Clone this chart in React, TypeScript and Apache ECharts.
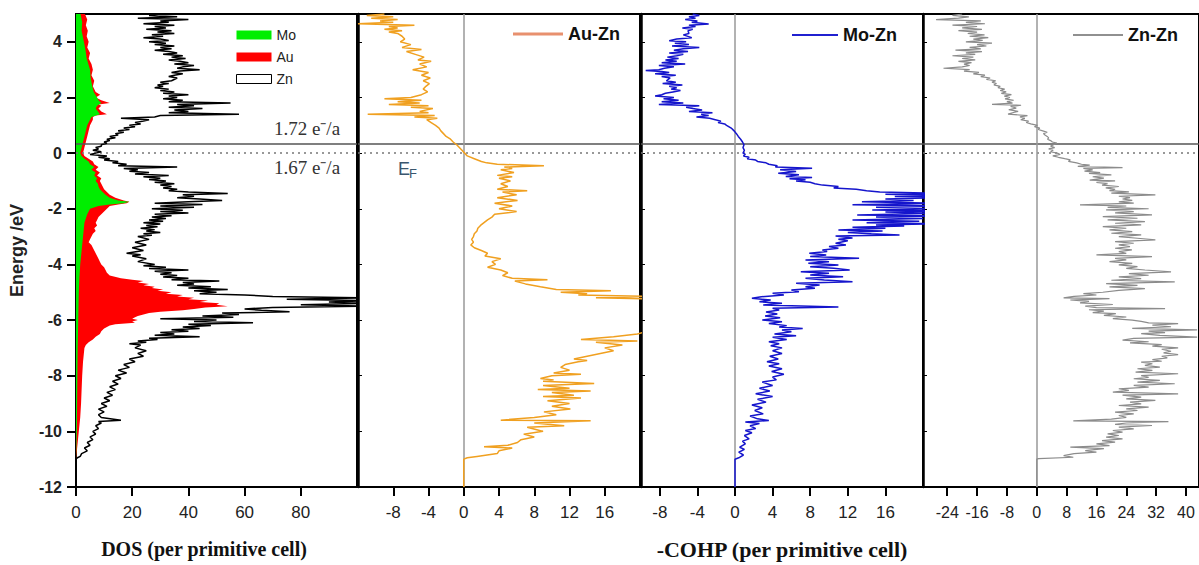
import React, { useEffect, useRef } from 'react';
import * as echarts from 'echarts';

// ---------- tick values ----------
const energyTicks = [-12, -10, -8, -6, -4, -2, 0, 2, 4];
const dosTicks = [0, 20, 40, 60, 80];
const auZnTicks = [-8, -4, 0, 4, 8, 12, 16];
const moZnTicks = [-8, -4, 0, 4, 8, 12, 16];
const znZnTicks = [-24, -16, -8, 0, 8, 16, 24, 32, 40];

// reference levels (eV)
const fermiLevel = 0;
const shiftedLevel = 0.32;

// ---------- data: [energy (eV), value] ----------
const moDos: [number, number][] = [
  [5.0, 1.6], [4.7, 2.2], [4.4, 2.0], [4.0, 2.8], [3.7, 3.4], [3.4, 3.8], [3.0, 5], [2.7, 5.2], [2.4, 5.8], [2.2, 6.3],
  [2.0, 7.5], [1.9, 8], [1.8, 9], [1.7, 7.5], [1.6, 7], [1.5, 7.8], [1.4, 8.5], [1.3, 5.5], [1.2, 5], [1.0, 4],
  [0.8, 3.5], [0.6, 3], [0.4, 2.5], [0.2, 2], [0.0, 1.5], [-0.1, 2], [-0.2, 3], [-0.3, 4.5], [-0.4, 5], [-0.5, 6.5],
  [-0.6, 5.5], [-0.7, 7], [-0.8, 6.5], [-0.9, 7.5], [-1.0, 7], [-1.1, 7.8], [-1.2, 8], [-1.3, 8.5], [-1.4, 9.5], [-1.5, 10.5],
  [-1.6, 12], [-1.7, 15], [-1.75, 19], [-1.8, 17], [-1.85, 12], [-1.9, 8], [-2.0, 5], [-2.2, 4], [-2.5, 3], [-3.0, 2.5],
  [-3.5, 2], [-4.0, 1.5], [-4.5, 1.2], [-5.0, 1], [-6.0, 0.8], [-7.0, 0.6], [-8.0, 0.5], [-9.0, 0.4], [-10.0, 0.3], [-11.0, 0],
];

const auDos: [number, number][] = [
  [5.0, 3.2], [4.8, 4], [4.6, 3.5], [4.4, 4.2], [4.2, 3.8], [4.0, 4.5], [3.8, 4], [3.6, 5], [3.4, 4.5], [3.2, 5.5],
  [3.0, 6], [2.8, 5.5], [2.6, 6.5], [2.4, 6], [2.2, 7], [2.1, 8.6], [2.0, 7], [1.9, 9], [1.8, 12], [1.75, 8],
  [1.7, 9], [1.6, 8], [1.5, 9], [1.4, 11], [1.35, 7], [1.3, 6], [1.2, 6], [1.0, 5], [0.8, 4.5], [0.6, 4],
  [0.4, 3.5], [0.2, 3], [0.0, 2.5], [-0.1, 3], [-0.2, 4.5], [-0.3, 6], [-0.4, 6.5], [-0.5, 8], [-0.6, 7], [-0.7, 8.5],
  [-0.8, 7.5], [-0.9, 9], [-1.0, 8.5], [-1.1, 9], [-1.2, 9.5], [-1.3, 10], [-1.4, 11], [-1.5, 12], [-1.6, 14], [-1.7, 17],
  [-1.75, 19], [-1.8, 18], [-1.85, 15], [-1.9, 12], [-2.0, 11], [-2.1, 10], [-2.2, 9], [-2.3, 8], [-2.4, 7.5], [-2.5, 7],
  [-2.6, 7.5], [-2.7, 6.5], [-2.8, 7], [-2.9, 6], [-3.0, 5.5], [-3.1, 5], [-3.2, 4.5], [-3.3, 5.5], [-3.4, 6], [-3.5, 6.5],
  [-3.6, 7], [-3.7, 7.5], [-3.8, 8], [-3.9, 8.5], [-4.0, 9], [-4.1, 10], [-4.2, 10.5], [-4.3, 11], [-4.4, 12], [-4.5, 16],
  [-4.55, 20], [-4.6, 24], [-4.65, 22], [-4.7, 26], [-4.75, 24], [-4.8, 28], [-4.85, 27], [-4.9, 31], [-4.95, 29], [-5.0, 34],
  [-5.05, 32], [-5.1, 38], [-5.15, 36], [-5.2, 42], [-5.25, 40], [-5.3, 47], [-5.35, 44], [-5.4, 51], [-5.45, 50], [-5.5, 54],
  [-5.55, 46], [-5.6, 42], [-5.65, 38], [-5.7, 30], [-5.75, 26], [-5.8, 24], [-5.85, 22], [-5.9, 21], [-5.95, 20], [-6.0, 22],
  [-6.05, 20], [-6.1, 21], [-6.15, 14], [-6.2, 12], [-6.3, 10], [-6.4, 9], [-6.5, 8.5], [-6.6, 7], [-6.7, 6], [-6.8, 4.5],
  [-6.9, 3.5], [-7.0, 3], [-7.5, 2.5], [-8.0, 2.2], [-8.5, 2], [-9.0, 1.8], [-9.5, 1.5], [-10.0, 1.0], [-10.5, 0.5], [-11.0, 0],
];

const znDos: [number, number][] = [
  [5.0, 30], [4.95, 26], [4.9, 36], [4.85, 22], [4.8, 40], [4.75, 30], [4.7, 33], [4.65, 24], [4.6, 35], [4.55, 28],
  [4.5, 32], [4.45, 25], [4.4, 34], [4.35, 29], [4.3, 35], [4.25, 27], [4.2, 31], [4.15, 24], [4.1, 30], [4.05, 33],
  [4.0, 26], [3.95, 32], [3.9, 28], [3.85, 35], [3.8, 30], [3.75, 34], [3.7, 28], [3.65, 33], [3.6, 36], [3.55, 31],
  [3.5, 38], [3.45, 34], [3.4, 39], [3.35, 33], [3.3, 37], [3.25, 40], [3.2, 35], [3.15, 42], [3.1, 38], [3.05, 36],
  [3.0, 44], [2.95, 37], [2.9, 34], [2.85, 38], [2.8, 35], [2.75, 33], [2.7, 36], [2.6, 34], [2.55, 30], [2.5, 33],
  [2.45, 29], [2.4, 31], [2.35, 28], [2.3, 33], [2.25, 30], [2.2, 35], [2.15, 31], [2.1, 40], [2.05, 33], [2.0, 36],
  [1.95, 31], [1.9, 38], [1.85, 33], [1.8, 55], [1.75, 36], [1.7, 42], [1.65, 33], [1.6, 45], [1.55, 35], [1.5, 40],
  [1.45, 33], [1.4, 58], [1.35, 30], [1.3, 28], [1.25, 16], [1.2, 26], [1.15, 24], [1.1, 21], [1.05, 23], [1.0, 19],
  [0.95, 21], [0.9, 17], [0.85, 19], [0.8, 15], [0.75, 17], [0.7, 14], [0.65, 15], [0.6, 12], [0.55, 14], [0.5, 11],
  [0.45, 12], [0.4, 10], [0.35, 11], [0.3, 9], [0.25, 9], [0.2, 7], [0.15, 8], [0.1, 6], [0.05, 9], [0.0, 7],
  [-0.05, 5], [-0.1, 11], [-0.15, 8], [-0.2, 12], [-0.25, 10], [-0.3, 15], [-0.35, 13], [-0.4, 18], [-0.45, 15], [-0.5, 36],
  [-0.55, 17], [-0.6, 22], [-0.65, 19], [-0.7, 26], [-0.75, 21], [-0.8, 33], [-0.85, 24], [-0.9, 30], [-0.95, 26], [-1.0, 32],
  [-1.05, 28], [-1.1, 35], [-1.15, 30], [-1.2, 34], [-1.25, 31], [-1.3, 36], [-1.35, 33], [-1.4, 40], [-1.45, 54], [-1.5, 38],
  [-1.55, 42], [-1.6, 36], [-1.65, 44], [-1.7, 52], [-1.75, 40], [-1.8, 28], [-1.85, 45], [-1.9, 30], [-1.95, 42], [-2.0, 27],
  [-2.05, 38], [-2.1, 30], [-2.15, 40], [-2.2, 28], [-2.25, 34], [-2.3, 27], [-2.35, 32], [-2.4, 26], [-2.45, 31], [-2.5, 24],
  [-2.55, 30], [-2.6, 25], [-2.65, 29], [-2.7, 23], [-2.75, 28], [-2.8, 25], [-2.85, 30], [-2.9, 24], [-2.95, 27], [-3.0, 22],
  [-3.1, 26], [-3.2, 21], [-3.3, 25], [-3.4, 20], [-3.5, 24], [-3.6, 18], [-3.65, 23], [-3.7, 20], [-3.8, 25], [-3.9, 22],
  [-4.0, 28], [-4.05, 24], [-4.1, 32], [-4.15, 26], [-4.2, 40], [-4.25, 28], [-4.3, 34], [-4.35, 30], [-4.4, 36], [-4.45, 31],
  [-4.5, 40], [-4.55, 34], [-4.6, 51], [-4.65, 38], [-4.7, 42], [-4.75, 36], [-4.8, 48], [-4.85, 40], [-4.9, 54], [-4.95, 42],
  [-5.0, 50], [-5.05, 44], [-5.1, 60], [-5.15, 70], [-5.2, 105], [-5.25, 75], [-5.3, 105], [-5.35, 90], [-5.4, 105], [-5.45, 80],
  [-5.5, 105], [-5.55, 70], [-5.6, 60], [-5.65, 66], [-5.7, 76], [-5.75, 52], [-5.8, 58], [-5.85, 45], [-5.9, 56], [-5.95, 30],
  [-6.0, 50], [-6.05, 42], [-6.1, 63], [-6.15, 40], [-6.2, 48], [-6.25, 38], [-6.3, 44], [-6.35, 34], [-6.4, 40], [-6.45, 30],
  [-6.5, 35], [-6.55, 28], [-6.6, 44], [-6.65, 26], [-6.7, 29], [-6.75, 22], [-6.8, 25], [-6.85, 19], [-6.9, 23], [-7.0, 21],
  [-7.1, 25], [-7.2, 22], [-7.3, 24], [-7.4, 19], [-7.5, 21], [-7.6, 17], [-7.7, 19], [-7.8, 15], [-7.9, 18], [-8.0, 14],
  [-8.1, 16], [-8.2, 13], [-8.3, 15], [-8.4, 12], [-8.5, 14], [-8.6, 11], [-8.7, 13], [-8.8, 10], [-8.9, 12], [-9.0, 9],
  [-9.1, 11], [-9.2, 8], [-9.3, 10], [-9.4, 8], [-9.5, 9], [-9.6, 16], [-9.65, 8], [-9.7, 9], [-9.8, 7], [-9.9, 8],
  [-10.0, 6], [-10.1, 7], [-10.2, 5], [-10.3, 6], [-10.4, 4], [-10.5, 5], [-10.6, 3], [-10.7, 4], [-10.8, 2], [-10.9, 1.5],
  [-10.95, 0.5], [-11.0, 0],
];

const auZnCohp: [number, number][] = [
  [5.0, -9], [4.95, -11], [4.9, -8], [4.85, -10.5], [4.8, -7.5], [4.75, -9.5], [4.7, -8], [4.65, -12], [4.6, -5.6], [4.55, -8.5],
  [4.5, -7.5], [4.45, -9], [4.4, -7], [4.35, -8.5], [4.3, -7.5], [4.2, -7], [4.1, -6.7], [4.0, -7.2], [3.9, -6], [3.8, -7],
  [3.72, -4.8], [3.65, -6.5], [3.55, -5.5], [3.45, -4.5], [3.35, -5.2], [3.3, -3.7], [3.2, -5], [3.1, -4.2], [3.0, -5.8], [2.9, -4],
  [2.8, -4.8], [2.7, -3.8], [2.6, -4.6], [2.5, -3.9], [2.4, -4.3], [2.3, -4.6], [2.2, -4.1], [2.1, -4.8], [2.0, -6], [1.95, -9],
  [1.9, -4.8], [1.85, -7.5], [1.8, -5], [1.75, -8.5], [1.7, -4], [1.65, -6], [1.6, -3.5], [1.5, -5], [1.45, -4], [1.4, -10.9],
  [1.35, -3.3], [1.3, -5.6], [1.25, -3], [1.2, -4.2], [1.1, -3.7], [1.0, -3.2], [0.9, -2.8], [0.8, -2.6], [0.7, -2.3], [0.6, -2],
  [0.5, -1.5], [0.4, -1.2], [0.3, -0.8], [0.2, -0.5], [0.1, -0.2], [0.0, 0.1], [-0.1, 0.4], [-0.2, 1.2], [-0.3, 2], [-0.35, 2.6],
  [-0.4, 3.8], [-0.45, 9.1], [-0.5, 4.6], [-0.55, 5.5], [-0.6, 4.2], [-0.7, 5.7], [-0.8, 3.8], [-0.85, 5.5], [-0.9, 4], [-1.0, 5.3],
  [-1.1, 4.2], [-1.2, 5], [-1.3, 3.8], [-1.35, 7.2], [-1.4, 4.4], [-1.5, 6], [-1.6, 3.8], [-1.7, 6.1], [-1.8, 3.5], [-1.9, 5.5],
  [-2.0, 4], [-2.1, 6], [-2.2, 3.5], [-2.3, 3.2], [-2.4, 2.7], [-2.5, 2.3], [-2.6, 1.9], [-2.7, 1.6], [-2.8, 1.5], [-2.9, 1.2],
  [-3.0, 1.1], [-3.1, 0.9], [-3.2, 1.1], [-3.3, 0.8], [-3.4, 1.2], [-3.5, 2], [-3.6, 2.7], [-3.7, 2.4], [-3.8, 4.2], [-3.9, 3.2],
  [-4.0, 3.6], [-4.1, 2.7], [-4.2, 4.2], [-4.3, 5], [-4.4, 4.4], [-4.5, 5.5], [-4.55, 9.5], [-4.6, 5.8], [-4.7, 7], [-4.8, 8.7],
  [-4.9, 10.5], [-4.95, 16.7], [-5.0, 11], [-5.05, 14], [-5.1, 13], [-5.15, 20.5], [-5.2, 15], [-5.25, 22], [-5.3, 24], [-5.5, 26],
  [-5.8, 27], [-6.1, 26], [-6.3, 23], [-6.4, 21], [-6.5, 19.7], [-6.6, 17], [-6.7, 13.3], [-6.75, 19.7], [-6.8, 15], [-6.9, 18],
  [-7.0, 16], [-7.1, 17], [-7.2, 15.5], [-7.3, 14], [-7.4, 12.5], [-7.45, 14], [-7.5, 13], [-7.6, 11.5], [-7.7, 11], [-7.8, 12],
  [-7.9, 10.2], [-7.95, 13.3], [-8.0, 10], [-8.1, 8.7], [-8.15, 10.2], [-8.2, 9], [-8.28, 14.8], [-8.35, 9], [-8.45, 12], [-8.5, 8.4],
  [-8.55, 14.4], [-8.6, 10], [-8.7, 12.5], [-8.75, 9], [-8.8, 13.3], [-8.9, 9.5], [-9.0, 12], [-9.1, 10], [-9.2, 12.1], [-9.3, 9.1],
  [-9.4, 10.5], [-9.5, 8], [-9.6, 4.2], [-9.62, 14.4], [-9.7, 8], [-9.8, 11.4], [-9.85, 7.2], [-9.95, 8.4], [-10.0, 9], [-10.1, 6.8],
  [-10.2, 8], [-10.3, 6.5], [-10.4, 6.1], [-10.5, 5], [-10.55, 2.3], [-10.6, 5.5], [-10.7, 4], [-10.8, 3.8], [-10.9, 1.5], [-10.95, 0.4],
  [-11.0, 0], [-12.0, 0],
];

const moZnCohp: [number, number][] = [
  [5.0, -4.5], [4.95, -3.8], [4.9, -4.9], [4.85, -4.2], [4.8, -5.3], [4.75, -4.0], [4.7, -4.6], [4.64, -2.8], [4.6, -4.9], [4.55, -4.2],
  [4.5, -5.6], [4.45, -4.5], [4.4, -5.0], [4.3, -4.9], [4.25, -5.5], [4.15, -4.6], [4.1, -6.2], [4.04, -7], [4.0, -5.2], [3.95, -6.4],
  [3.9, -4.9], [3.85, -6.7], [3.8, -3.8], [3.75, -5.5], [3.7, -6.5], [3.65, -5], [3.6, -7], [3.55, -5.5], [3.5, -6.2], [3.45, -7.2],
  [3.4, -6], [3.35, -7.4], [3.3, -6.2], [3.25, -7.8], [3.2, -5.3], [3.15, -8.1], [3.1, -6.5], [3.05, -7.5], [3.0, -8.1], [2.97, -9.5],
  [2.93, -7.8], [2.9, -7], [2.85, -8.5], [2.8, -6.3], [2.75, -7.8], [2.7, -6.9], [2.6, -7.3], [2.55, -6.3], [2.5, -7.7], [2.45, -5.6],
  [2.4, -7], [2.35, -6.2], [2.3, -6.8], [2.25, -5.8], [2.2, -6.6], [2.15, -7.4], [2.1, -7.8], [2.05, -8.5], [2.0, -6.5], [1.95, -7.6],
  [1.9, -6], [1.85, -7.8], [1.8, -5.5], [1.75, -8.1], [1.7, -3.8], [1.65, -5.2], [1.6, -4.5], [1.55, -3.5], [1.5, -4.9], [1.45, -2.4],
  [1.4, -3.6], [1.35, -2.8], [1.3, -4.1], [1.25, -2.7], [1.2, -2.1], [1.15, -1.5], [1.1, -1.8], [1.05, -1.1], [1.0, -0.9], [0.9, -0.4],
  [0.8, -0.1], [0.7, 0.15], [0.6, 0.35], [0.5, 0.6], [0.4, 0.8], [0.3, 0.96], [0.2, 0.85], [0.1, 1.0], [0.0, 0.85], [-0.05, 1.1],
  [-0.1, 0.9], [-0.15, 1.5], [-0.2, 1.3], [-0.25, 2.2], [-0.3, 2.4], [-0.35, 3.3], [-0.4, 3.6], [-0.45, 4.5], [-0.5, 4.3], [-0.54, 8.2],
  [-0.6, 4.8], [-0.66, 6.5], [-0.72, 4.6], [-0.78, 6.8], [-0.84, 5.4], [-0.88, 8.2], [-0.92, 5.8], [-0.96, 7.5], [-1.0, 6.5], [-1.05, 8],
  [-1.1, 8.5], [-1.15, 9.3], [-1.2, 11], [-1.25, 10.5], [-1.3, 12.9], [-1.35, 14], [-1.4, 15.4], [-1.44, 22], [-1.48, 16], [-1.52, 22],
  [-1.56, 17], [-1.6, 22], [-1.65, 16], [-1.7, 19], [-1.75, 13.5], [-1.8, 22], [-1.86, 12.5], [-1.9, 22], [-1.95, 15], [-2.0, 22],
  [-2.04, 14.6], [-2.08, 22], [-2.12, 16], [-2.16, 21], [-2.22, 13], [-2.26, 22], [-2.3, 15], [-2.35, 20], [-2.4, 12.5], [-2.45, 19.6],
  [-2.5, 14], [-2.54, 22], [-2.58, 15], [-2.62, 18], [-2.66, 12.5], [-2.7, 16], [-2.76, 11], [-2.8, 15.7], [-2.85, 12], [-2.9, 14.5],
  [-2.94, 17.5], [-2.98, 10.7], [-3.05, 12.5], [-3.1, 11], [-3.15, 12], [-3.24, 10.7], [-3.3, 11.8], [-3.36, 10], [-3.42, 11], [-3.48, 9.3],
  [-3.54, 9.8], [-3.6, 7.9], [-3.66, 9.7], [-3.72, 8], [-3.78, 13.2], [-3.84, 7.5], [-3.9, 10], [-3.96, 7.8], [-4.02, 11], [-4.08, 8],
  [-4.14, 10.5], [-4.2, 12.2], [-4.26, 7], [-4.32, 10], [-4.38, 8], [-4.44, 11.5], [-4.5, 7.5], [-4.56, 9.5], [-4.62, 12.5], [-4.68, 6.5],
  [-4.74, 9], [-4.8, 7.5], [-4.86, 8.5], [-4.92, 6], [-4.98, 6.8], [-5.04, 4], [-5.1, 5.2], [-5.16, 2.8], [-5.22, 1.8], [-5.28, 3.8],
  [-5.34, 2.6], [-5.4, 5], [-5.46, 3], [-5.53, 11], [-5.58, 4], [-5.64, 4.7], [-5.71, 3.3], [-5.78, 4.5], [-5.85, 3.2], [-5.92, 4.8],
  [-6.0, 2.9], [-6.06, 5], [-6.12, 3.6], [-6.2, 5.5], [-6.25, 4.7], [-6.3, 7.2], [-6.36, 5], [-6.42, 6], [-6.5, 4.2], [-6.56, 6.5],
  [-6.62, 4], [-6.7, 5.5], [-6.78, 3.6], [-6.85, 4.7], [-6.92, 3.8], [-7.0, 5], [-7.1, 4], [-7.2, 5], [-7.3, 3.7], [-7.4, 4.6],
  [-7.5, 3.4], [-7.57, 4.7], [-7.65, 3.6], [-7.75, 5], [-7.85, 3.9], [-7.95, 5.2], [-8.05, 4], [-8.15, 4.4], [-8.23, 2.9], [-8.35, 4],
  [-8.45, 2.6], [-8.55, 3.7], [-8.65, 2.2], [-8.75, 4], [-8.85, 2.4], [-8.95, 3.3], [-9.05, 1.8], [-9.15, 2.9], [-9.25, 2.1], [-9.37, 3],
  [-9.45, 1.6], [-9.55, 2.4], [-9.61, 3.6], [-9.66, 1.1], [-9.72, 2.6], [-9.8, 1.6], [-9.9, 2.2], [-9.97, 1.1], [-10.05, 1.8], [-10.15, 1.0],
  [-10.27, 1.5], [-10.35, 0.8], [-10.45, 1.1], [-10.57, 0.5], [-10.65, 1.0], [-10.75, 0.4], [-10.85, 0.9], [-10.95, 0.4], [-11.0, 0], [-12.0, 0],
];

const znZnCohp: [number, number][] = [
  [5.0, -20], [4.95, -22.6], [4.9, -18.2], [4.85, -21], [4.8, -27], [4.75, -15], [4.7, -19], [4.65, -13.9], [4.6, -22.6], [4.55, -16],
  [4.5, -20], [4.45, -14.7], [4.4, -21], [4.35, -16], [4.3, -18.5], [4.25, -14], [4.2, -18], [4.15, -13], [4.1, -17], [4.05, -14.5],
  [4.0, -19], [3.95, -12], [3.9, -16], [3.85, -13.5], [3.8, -18], [3.75, -15], [3.7, -21.8], [3.65, -14.7], [3.6, -19], [3.55, -16.5],
  [3.5, -22.6], [3.45, -17], [3.4, -20], [3.35, -16.5], [3.3, -21], [3.25, -17.5], [3.2, -19.5], [3.15, -18], [3.1, -20], [3.05, -25],
  [3.0, -18], [2.95, -19.5], [2.9, -15.5], [2.85, -17], [2.8, -13.9], [2.75, -15], [2.7, -12.5], [2.65, -13.5], [2.6, -11], [2.55, -12],
  [2.5, -10.8], [2.45, -11.5], [2.4, -9.8], [2.35, -10.4], [2.3, -8.6], [2.25, -9.8], [2.2, -8.2], [2.15, -9.5], [2.1, -6.8], [2.05, -8.7],
  [2.0, -7.2], [1.95, -8.5], [1.9, -6.2], [1.85, -8], [1.8, -6.5], [1.75, -12], [1.72, -4.2], [1.68, -7], [1.62, -5.5], [1.56, -7.5],
  [1.5, -5], [1.45, -6.5], [1.4, -7.7], [1.35, -2.5], [1.3, -4.5], [1.25, -3.2], [1.2, -4.3], [1.15, -2.2], [1.1, -2.8], [1.05, -1.6],
  [1.0, 0.2], [0.95, -0.6], [0.9, 0.8], [0.85, 0.4], [0.8, 1.6], [0.75, 2.8], [0.7, 1.8], [0.65, 2.2], [0.6, 2.8], [0.55, 3.2],
  [0.5, 2.9], [0.45, 3.7], [0.4, 4.2], [0.36, 5.4], [0.3, 4.5], [0.25, 3.7], [0.2, 4.8], [0.15, 3.2], [0.1, 4.4], [0.05, 3.7],
  [0.0, 5.5], [-0.05, 6.3], [-0.1, 4.3], [-0.15, 5.8], [-0.2, 7.5], [-0.24, 9], [-0.3, 8.5], [-0.35, 10.7], [-0.4, 12], [-0.43, 14.2],
  [-0.48, 11], [-0.52, 23], [-0.55, 12.5], [-0.6, 15], [-0.65, 12.8], [-0.7, 17], [-0.73, 14], [-0.78, 20], [-0.85, 15], [-0.9, 18],
  [-0.97, 14.2], [-1.0, 21], [-1.05, 16], [-1.1, 19], [-1.15, 17.5], [-1.2, 22], [-1.25, 18.5], [-1.3, 21], [-1.35, 19.5], [-1.39, 24.7],
  [-1.44, 20], [-1.5, 31.8], [-1.55, 22], [-1.6, 25], [-1.65, 23], [-1.7, 25.6], [-1.75, 22], [-1.8, 26], [-1.86, 11.6], [-1.9, 24],
  [-1.95, 19], [-2.0, 30], [-2.04, 18.6], [-2.1, 26], [-2.15, 21], [-2.22, 30.9], [-2.28, 17.7], [-2.34, 27], [-2.4, 19], [-2.46, 29],
  [-2.52, 21], [-2.58, 28], [-2.64, 17.7], [-2.7, 24], [-2.76, 19.5], [-2.82, 25.6], [-2.88, 20], [-2.94, 28], [-3.0, 22], [-3.06, 27],
  [-3.12, 31.8], [-3.18, 21], [-3.24, 26], [-3.3, 22], [-3.36, 25], [-3.42, 21], [-3.48, 25.5], [-3.54, 22], [-3.6, 24], [-3.66, 16],
  [-3.72, 30.9], [-3.78, 21], [-3.84, 24], [-3.9, 19.5], [-3.96, 25.6], [-4.02, 22], [-4.08, 27], [-4.14, 24], [-4.2, 29], [-4.27, 36],
  [-4.33, 24.7], [-4.39, 30], [-4.45, 22], [-4.51, 28], [-4.57, 20], [-4.63, 37], [-4.69, 18.6], [-4.75, 27], [-4.81, 19.5], [-4.87, 29],
  [-4.93, 22], [-5.0, 17.7], [-5.05, 12.5], [-5.1, 16], [-5.15, 10], [-5.2, 7.2], [-5.23, 19.5], [-5.28, 9], [-5.33, 14], [-5.38, 11.6],
  [-5.44, 20.4], [-5.5, 13], [-5.55, 16], [-5.59, 34.4], [-5.63, 14], [-5.68, 18], [-5.73, 15], [-5.77, 21.2], [-5.83, 18], [-5.89, 24],
  [-5.95, 20.4], [-6.0, 25.6], [-6.05, 28], [-6.1, 30], [-6.13, 37.9], [-6.18, 31], [-6.24, 36], [-6.3, 25.6], [-6.35, 43], [-6.4, 30],
  [-6.45, 34.4], [-6.49, 28], [-6.55, 33], [-6.61, 43], [-6.66, 26], [-6.72, 23], [-6.78, 30], [-6.82, 25], [-6.88, 33.5], [-6.94, 31],
  [-7.0, 37.9], [-7.05, 33.5], [-7.12, 36], [-7.18, 34], [-7.24, 37.9], [-7.3, 33.5], [-7.36, 35], [-7.42, 31], [-7.48, 33.5], [-7.51, 28],
  [-7.57, 31], [-7.63, 29], [-7.69, 33], [-7.75, 27], [-7.81, 31], [-7.87, 26.5], [-7.93, 37.9], [-8.0, 28], [-8.06, 30], [-8.11, 26],
  [-8.17, 33], [-8.23, 27], [-8.29, 37], [-8.35, 26], [-8.41, 30], [-8.47, 22], [-8.53, 24.7], [-8.59, 20.4], [-8.65, 37.9], [-8.7, 23],
  [-8.77, 28], [-8.83, 24], [-8.89, 31.8], [-8.95, 25], [-9.01, 28], [-9.07, 22], [-9.13, 30], [-9.19, 24], [-9.25, 27], [-9.31, 21],
  [-9.37, 26], [-9.43, 22], [-9.5, 24], [-9.56, 20], [-9.62, 9.8], [-9.65, 35.3], [-9.7, 24], [-9.75, 21], [-9.79, 30.9], [-9.85, 22],
  [-9.91, 26], [-9.97, 20.4], [-10.03, 23], [-10.09, 19], [-10.15, 22], [-10.21, 18.6], [-10.27, 23], [-10.33, 17.5], [-10.39, 21], [-10.45, 16],
  [-10.51, 19.5], [-10.57, 9], [-10.62, 18], [-10.69, 13], [-10.75, 16], [-10.8, 10], [-10.87, 7.2], [-10.93, 9.8], [-10.98, 0.5], [-11.0, 0],
  [-12.0, 0],
];

const SERIF = '"Liberation Serif", "Times New Roman", serif';
const SANS = '"Liberation Sans", Arial, sans-serif';

function toXY(d: [number, number][]) {
  return d.map(([e, v]) => [v, e]);
}

function fillSeries(d: [number, number][], name: string, color: string, z: number) {
  return {
    type: 'custom',
    name,
    xAxisIndex: 0,
    yAxisIndex: 0,
    z,
    clip: true,
    silent: true,
    itemStyle: { color },
    encode: { x: 0, y: 1 },
    data: toXY(d),
    renderItem: (params: any, api: any) => {
      if (params.dataIndex !== 0) return null;
      const pts = d.map(([e, v]) => api.coord([v, e]));
      const top = api.coord([0, d[0][0]]);
      const bottom = api.coord([0, d[d.length - 1][0]]);
      return {
        type: 'polygon',
        shape: { points: [top, ...pts, bottom] },
        style: { fill: color },
      };
    },
  };
}

function levelLines(withZero: boolean) {
  const data: any[] = [
    { yAxis: shiftedLevel, lineStyle: { color: '#555', width: 1.5, type: 'solid' } },
    { yAxis: fermiLevel, lineStyle: { color: '#777', width: 1.5, type: [2, 4] } },
  ];
  if (withZero) data.push({ xAxis: 0, lineStyle: { color: '#999', width: 1.5, type: 'solid' } });
  return {
    silent: true,
    symbol: ['none', 'none'],
    label: { show: false },
    animation: false,
    data,
  };
}

function lineSeries(d: [number, number][], name: string, color: string, idx: number, width: number, withZero: boolean) {
  return {
    type: 'line',
    name,
    xAxisIndex: idx,
    yAxisIndex: idx,
    data: toXY(d),
    symbol: 'none',
    showSymbol: false,
    clip: true,
    z: 5,
    lineStyle: { color, width },
    itemStyle: { color },
    markLine: levelLines(withZero),
  };
}

function xAxisCfg(idx: number, min: number, max: number, ticks: number[], fontSize: number) {
  return {
    type: 'value',
    gridIndex: idx,
    min,
    max,
    position: 'bottom',
    axisLine: { show: true, onZero: false, lineStyle: { color: '#000', width: 2 } },
    axisTick: { show: true, inside: false, length: 9, lineStyle: { color: '#000', width: 2 }, customValues: ticks },
    axisLabel: { show: true, customValues: ticks, fontSize, color: '#222', margin: 17, fontFamily: SANS },
    splitLine: { show: false },
  };
}

function yAxisCfg(idx: number) {
  const first = idx === 0;
  return {
    type: 'value',
    gridIndex: idx,
    min: -12,
    max: 5,
    position: 'left',
    name: first ? 'Energy /eV' : '',
    nameLocation: 'middle',
    nameGap: 50,
    nameTextStyle: { fontSize: 18, fontWeight: 'bold', color: '#222', fontFamily: SANS },
    axisLine: { show: true, onZero: false, lineStyle: { color: '#000', width: first ? 2 : 2.5 } },
    axisTick: {
      show: true,
      inside: !first,
      length: first ? 9 : 4,
      lineStyle: { color: '#000', width: first ? 2 : 1 },
      customValues: energyTicks,
    },
    axisLabel: {
      show: first,
      customValues: energyTicks,
      fontSize: 16,
      fontWeight: 'bold',
      color: '#222',
      margin: 14,
      fontFamily: SANS,
    },
    splitLine: { show: false },
  };
}

export default function App() {
  const ref = useRef<HTMLDivElement>(null);

  useEffect(() => {
    if (!ref.current) return;
    const chart = echarts.init(ref.current, undefined, { renderer: 'svg' });
    const gridBase = { top: 14, height: 473, show: true, borderColor: '#000', borderWidth: 2, containLabel: false };
    const option: any = {
      animation: false,
      backgroundColor: '#fff',
      textStyle: { fontFamily: SANS },
      grid: [
        { ...gridBase, left: 76, width: 281 },
        { ...gridBase, left: 358, width: 282 },
        { ...gridBase, left: 641, width: 282 },
        { ...gridBase, left: 923, width: 281 },
      ],
      xAxis: [
        xAxisCfg(0, 0, 100, dosTicks, 17),
        xAxisCfg(1, -12, 20, auZnTicks, 17),
        xAxisCfg(2, -10, 20, moZnTicks, 17),
        xAxisCfg(3, -30.5, 43.5, znZnTicks, 16),
      ],
      yAxis: [yAxisCfg(0), yAxisCfg(1), yAxisCfg(2), yAxisCfg(3)],
      legend: [
        {
          left: 236,
          top: 28,
          padding: 0,
          orient: 'vertical',
          itemWidth: 35,
          itemHeight: 9,
          itemGap: 8,
          selectedMode: false,
          textStyle: { fontSize: 14, color: '#222', fontFamily: SANS },
          data: [
            { name: 'Mo', icon: 'rect', itemStyle: { color: '#00ee00' } },
            { name: 'Au', icon: 'rect', itemStyle: { color: '#ff0000' } },
            { name: 'Zn', icon: 'rect', itemStyle: { color: '#ffffff', borderColor: '#000', borderWidth: 1 } },
          ],
        },
        {
          left: 513,
          top: 25,
          padding: 0,
          itemWidth: 50,
          itemHeight: 3,
          selectedMode: false,
          textStyle: { fontSize: 18, fontWeight: 'bold', color: '#111', fontFamily: SANS },
          data: [{ name: 'Au-Zn', icon: 'rect', itemStyle: { color: '#e8906e' } }],
        },
        {
          left: 792,
          top: 26,
          padding: 0,
          itemWidth: 46,
          itemHeight: 2,
          selectedMode: false,
          textStyle: { fontSize: 18, fontWeight: 'bold', color: '#111', fontFamily: SANS },
          data: [{ name: 'Mo-Zn', icon: 'rect', itemStyle: { color: '#2020d0' } }],
        },
        {
          left: 1073,
          top: 26,
          padding: 0,
          itemWidth: 50,
          itemHeight: 2,
          selectedMode: false,
          textStyle: { fontSize: 18, fontWeight: 'bold', color: '#111', fontFamily: SANS },
          data: [{ name: 'Zn-Zn', icon: 'rect', itemStyle: { color: '#909090' } }],
        },
      ],
      series: [
        fillSeries(auDos, 'Au', '#ff0000', 2),
        fillSeries(moDos, 'Mo', '#00ee00', 3),
        lineSeries(znDos, 'Zn', '#000000', 0, 1.5, false),
        lineSeries(auZnCohp, 'Au-Zn', '#f0a020', 1, 1.5, true),
        lineSeries(moZnCohp, 'Mo-Zn', '#1515cc', 2, 1.5, true),
        lineSeries(znZnCohp, 'Zn-Zn', '#8c8c8c', 3, 1.2, true),
      ],
      graphic: [
        {
          type: 'text',
          x: 307,
          y: 128,
          style: { text: '1.72 e\u207B/a', fontSize: 19, fontFamily: SERIF, fill: '#333', align: 'center', verticalAlign: 'middle' },
        },
        {
          type: 'text',
          x: 307,
          y: 167,
          style: { text: '1.67 e\u207B/a', fontSize: 19, fontFamily: SERIF, fill: '#333', align: 'center', verticalAlign: 'middle' },
        },
        {
          type: 'text',
          x: 398,
          y: 160,
          style: { text: 'E', fontSize: 18, fontFamily: SANS, fill: '#3a566e', align: 'left', verticalAlign: 'top' },
        },
        {
          type: 'text',
          x: 409,
          y: 167,
          style: { text: 'F', fontSize: 13, fontFamily: SANS, fill: '#3a566e', align: 'left', verticalAlign: 'top' },
        },
        {
          type: 'text',
          x: 204,
          y: 549,
          style: { text: 'DOS (per primitive cell)', fontSize: 20, fontWeight: 'bold', fontFamily: SERIF, fill: '#111', align: 'center', verticalAlign: 'middle' },
        },
        {
          type: 'text',
          x: 782,
          y: 549,
          style: { text: '-COHP (per primitive cell)', fontSize: 22, fontWeight: 'bold', fontFamily: SERIF, fill: '#111', align: 'center', verticalAlign: 'middle' },
        },
      ],
    };
    chart.setOption(option);
    return () => chart.dispose();
  }, []);

  return (
    <div
      ref={ref}
      style={{ position: 'fixed', left: 0, top: 0, width: 1199, height: 565, background: '#fff' }}
    />
  );
}
